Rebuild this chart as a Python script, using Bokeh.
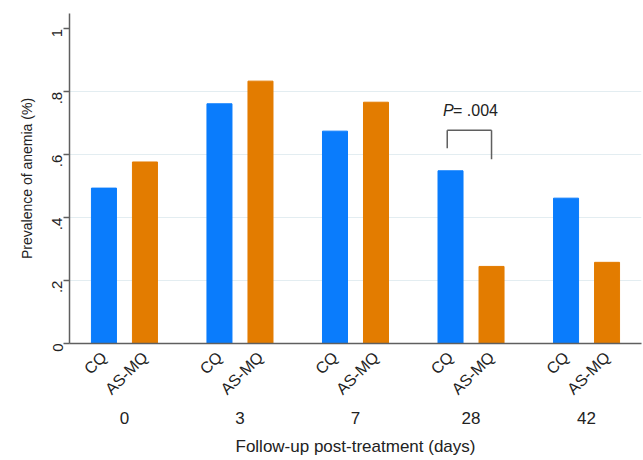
import math
from bokeh.plotting import figure
from bokeh.models import FactorRange, Range1d, FixedTicker, ColumnDataSource
from bokeh.core.properties import value
from bokeh.embed import file_html
from bokeh.resources import INLINE

days = ["0", "3", "7", "28", "42"]
treatments = ["CQ", "AS-MQ"]
cq = [0.494, 0.762, 0.675, 0.549, 0.462]
asmq = [0.577, 0.834, 0.767, 0.245, 0.258]
y_ticks = [0, 0.2, 0.4, 0.6, 0.8, 1]
y_tick_labels = ["0", ".2", ".4", ".6", ".8", "1"]
p_text = ".004"

FONT = "Liberation Sans"
BLUE = "#0a7cfc"
ORANGE = "#e37c00"
AXIS = "#5f5f5f"

factors = [(d, t) for d in days for t in treatments]
x_range = FactorRange(*factors, factor_padding=0.0, group_padding=0.817,
                      range_padding=0.34, range_padding_units="absolute")

p = figure(x_range=x_range, y_range=Range1d(0, 1.049),
           frame_width=572, frame_height=330,
           output_backend="svg", toolbar_location=None,
           min_border_left=69, min_border_top=13, min_border_right=1, min_border_bottom=20)
p.outline_line_color = None

src_cq = ColumnDataSource(dict(x=[(d, "CQ") for d in days], top=cq))
src_as = ColumnDataSource(dict(x=[(d, "AS-MQ") for d in days], top=asmq))
p.vbar(x="x", top="top", width=0.61, source=src_cq, fill_color=BLUE, line_color=BLUE)
p.vbar(x="x", top="top", width=0.61, source=src_as, fill_color=ORANGE, line_color=ORANGE)

# significance bracket at day 28
p_top = 0.678
p.segment(x0=[("28", "CQ", -0.08), ("28", "CQ", -0.08), ("28", "AS-MQ", 0.0)],
          y0=[p_top, p_top, p_top],
          x1=[("28", "AS-MQ", 0.0), ("28", "CQ", -0.08), ("28", "AS-MQ", 0.0)],
          y1=[p_top, 0.621, 0.586], line_color=AXIS, line_width=1.5)
p.text(x=["28"], y=[0.741], text=["P"], x_offset=-28, text_align="left",
       text_baseline="alphabetic", text_font=value(FONT), text_font_size="16px",
       text_font_style="italic", text_color="#222222")
p.text(x=["28"], y=[0.741], text=["= " + p_text], x_offset=-18, text_align="left",
       text_baseline="alphabetic", text_font=value(FONT), text_font_size="16px",
       text_color="#222222")

# y axis
ya = p.yaxis[0]
ya.ticker = FixedTicker(ticks=y_ticks)
ya.major_label_overrides = {t: l for t, l in zip(y_ticks, y_tick_labels)}
ya.major_label_orientation = math.pi / 2
ya.major_label_text_font = FONT
ya.major_label_text_font_size = "15px"
ya.major_label_text_color = "#222222"
ya.major_label_standoff = 6
ya.minor_tick_line_color = None
ya.major_tick_out = 6
ya.major_tick_in = 0
ya.major_tick_line_color = AXIS
ya.major_tick_line_width = 1.5
ya.axis_line_color = AXIS
ya.axis_line_width = 1.5
ya.axis_label = "Prevalence of anemia (%)"
ya.axis_label_text_font = FONT
ya.axis_label_text_font_size = "14px"
ya.axis_label_text_font_style = "normal"
ya.axis_label_text_color = "#222222"
ya.axis_label_standoff = 10

# x axis
xa = p.xaxis[0]
xa.major_label_orientation = math.pi / 4
xa.major_label_text_font = FONT
xa.major_label_text_font_size = "16px"
xa.major_label_text_color = "#222222"
xa.group_text_font = FONT
xa.group_text_font_size = "17px"
xa.group_text_font_style = "normal"
xa.group_text_color = "#222222"
xa.separator_line_color = None
xa.major_tick_line_color = None
xa.minor_tick_line_color = None
xa.axis_line_color = AXIS
xa.axis_line_width = 1.5
xa.axis_label = "Follow-up post-treatment (days)"
xa.axis_label_text_font = FONT
xa.axis_label_text_font_size = "17px"
xa.axis_label_text_font_style = "normal"
xa.axis_label_text_color = "#222222"
xa.axis_label_standoff = 10

p.xgrid.grid_line_color = None
p.ygrid.ticker = FixedTicker(ticks=[0.2, 0.4, 0.6, 0.8])
p.ygrid.grid_line_color = "#e3edf1"
p.ygrid.grid_line_width = 1

open("out.html", "w").write(file_html(p, INLINE))
